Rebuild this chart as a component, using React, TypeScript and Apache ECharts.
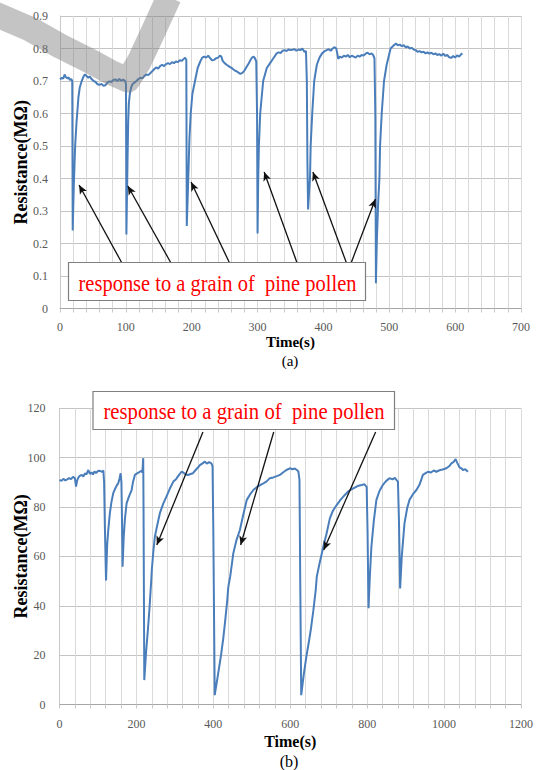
import React, { useEffect, useRef } from "react";
import * as echarts from "echarts";

const FONT = "Liberation Serif";

// (a) Time(s) vs Resistance(MΩ)
const topData: [number, number][] = [
  [0, .705], [3, .71], [5, .707], [7, .72], [9, .712], [11, .708], [13, .711], [15, .703], [17, .706], [18.6, .70],
  [19.3, .24], [20, .30], [21, .38], [22, .44], [23, .50], [25, .57], [26.5, .61], [28, .65], [30, .68], [33, .70],
  [36, .715], [38, .72], [40, .716], [43, .71], [45, .714], [48, .706], [51, .70], [54, .697], [57, .69], [60, .688],
  [63, .691], [66, .685], [69, .687], [72, .695], [75, .699], [78, .697], [81, .703], [84, .705], [87, .70], [90, .706],
  [93, .701], [96, .704], [99, .70], [100.2, .69], [100.8, .228], [101.5, .32], [102.5, .45], [103.5, .57], [104.5, .63],
  [106, .66], [108, .68], [110, .69], [113, .695], [116, .70], [119, .706], [122, .71], [125, .708], [128, .715], [131, .72],
  [134, .718], [137, .724], [140, .73], [143, .736], [146, .742], [149, .738], [152, .746], [155, .75], [158, .746], [161, .752],
  [164, .755], [167, .752], [170, .758], [173, .755], [176, .76], [179, .758], [182, .764], [185, .762], [188, .768], [190, .772],
  [191.8, .765], [192.5, .254], [194, .35], [195.5, .45], [196.5, .52], [198.5, .60], [201, .66], [205, .70], [209, .74], [213, .76],
  [216, .772], [219, .775], [222, .772], [225, .778], [228, .77], [231, .764], [234, .765], [237, .77], [240, .772], [243, .778],
  [245, .775], [247, .762], [250, .755], [253, .75], [256, .746], [259, .742], [262, .738], [265, .733], [268, .73], [271, .726],
  [274, .722], [277, .725], [280, .732], [283, .742], [286, .752], [289, .764], [292, .773], [294, .775], [296, .77], [298, .76],
  [299.2, .60], [300, .231], [301, .40], [302, .5], [304, .6], [308.5, .70], [314, .74], [319, .755], [324, .77], [329, .785],
  [332, .788], [335, .786], [338, .793], [341, .795], [344, .792], [347, .797], [350, .795], [353, .796], [356, .798], [359, .793],
  [362, .797], [365, .795], [368, .80], [371, .79], [373.5, .792], [374.8, .70], [375.7, .45], [376.7, .305], [378, .35], [379.6, .40],
  [380.6, .50], [383, .60], [386, .70], [390, .75], [394, .772], [398, .785], [402, .792], [405, .795], [408, .798], [411, .793],
  [414, .80], [417, .804], [419.5, .80], [421, .785], [422.5, .768], [425, .775], [428, .772], [431, .778], [434, .775], [437, .78],
  [440, .773], [443, .778], [446, .775], [449, .772], [452, .778], [455, .775], [458, .78], [461, .778], [464, .784], [467, .787],
  [470, .782], [473, .785], [475.5, .78], [477.5, .77], [478.8, .60], [479.7, .078], [481, .20], [483, .32], [485, .40], [486, .50],
  [488.5, .60], [492, .70], [496, .75], [502, .80], [507, .81], [510, .815], [513, .81], [516, .812], [519, .807], [522, .81],
  [525, .804], [528, .806], [531, .80], [534, .802], [537, .797], [540, .795], [543, .79], [546, .792], [549, .788], [552, .79],
  [555, .785], [558, .788], [561, .784], [564, .787], [567, .782], [570, .785], [573, .78], [576, .783], [579, .778], [582, .784],
  [585, .777], [588, .78], [591, .773], [594, .771], [597, .777], [600, .772], [603, .779], [606, .775], [609, .782], [611, .785],
];

// (b) Time(s) vs Resistance(MΩ)
const bottomData: [number, number][] = [
  [0, 91], [5, 90.6], [10, 91.4], [15, 90.8], [20, 91.2], [25, 91.7], [30, 91.3], [35, 92.2], [40, 91.7], [43, 88.3],
  [46, 90.8], [50, 92.2], [54, 92.8], [58, 93], [62, 92.4], [66, 93.6], [70, 93.2], [75, 95], [79, 93.4], [83, 94],
  [87, 93.2], [91, 94.4], [95, 93.8], [100, 94.6], [105, 94.7], [110, 94.2], [114, 94.8], [116, 90], [118, 72], [121, 50.2],
  [124, 65], [127, 71], [131, 77.5], [135, 82], [139.7, 85.6], [145, 87.5], [149, 88.8], [152.7, 89.6], [156, 91.5], [159, 93.7],
  [161, 90], [162.5, 75], [164, 55.8], [167, 68], [170, 75], [174.5, 81.5], [180, 84], [187.5, 86.9], [191, 90], [196, 93],
  [202, 93.6], [209, 94.3], [213, 94.7], [215.5, 94], [217.7, 99.8], [218.5, 80], [220.5, 9.9], [225, 21], [230, 30.5], [234, 39],
  [238.6, 50.4], [240, 54.5], [244, 62], [248, 68], [254, 72.5], [261, 77.5], [270, 81.5], [278, 84.2], [287, 87.5], [296, 90.3],
  [303, 91.3], [310, 92.8], [317, 94.3], [322, 94], [328, 93.2], [334, 93], [341, 93.4], [347, 93.7], [354, 95], [360, 96],
  [365, 97], [371, 97.6], [378, 98.4], [383, 97.6], [389, 98.2], [395, 97.7], [398, 96.5], [400, 70], [403.6, 3.8], [412, 12],
  [420, 20], [426, 27], [431, 34.2], [436, 42], [439, 47.7], [444, 52], [452, 61.3], [460, 66.5], [469, 70.7], [478, 77],
  [487, 82.9], [495, 85], [504, 86.9], [515, 88.3], [530, 89.6], [538, 90.3], [547, 91.7], [556, 92], [565, 92.5], [573, 93],
  [581, 94], [590, 95], [599, 95.7], [606, 95.3], [612, 95.6], [617, 95], [621, 94.5], [624, 91], [626, 50], [628.5, 3.8],
  [635, 12], [642, 19.5], [648, 25], [654, 30.9], [660, 38], [666, 46], [669, 51.8], [676, 57], [686, 63.9], [694, 69],
  [703, 75.4], [711, 78.5], [720.7, 80.8], [730, 82.8], [742, 84.9], [752, 86.5], [764, 87.6], [775, 88.5], [785.6, 88.9], [793, 89.2],
  [798.7, 88.2], [801, 70], [803.5, 39], [807, 52], [811, 63.9], [817, 74], [824, 82.9], [832, 86.5], [841, 89], [849, 90.5],
  [858, 91.7], [866, 91.2], [872, 91.8], [876, 91], [880, 90.3], [882.6, 75], [885.7, 47], [890, 60], [897, 73.4], [904, 79.5],
  [910, 82.9], [919, 85.2], [928, 86.9], [936, 89], [945, 93], [951, 93.6], [958, 94.3], [966, 94], [973, 94.8], [980, 94.3],
  [988, 94.9], [996, 95.2], [1006, 95.7], [1013, 96.5], [1019, 97.7], [1025, 98.3], [1030, 99.4], [1034, 98], [1040, 96.1], [1045, 95.7],
  [1049, 95], [1055, 95.3], [1062, 94.3],
];

const topXLabels = [0, 100, 200, 300, 400, 500, 600, 700];
const bottomXLabels = [0, 200, 400, 600, 800, 1000, 1200];

// arrows: [tail, tip] in data coordinates
const topArrows: [number, number][][] = [
  [[94, 0.14], [29, 0.38]],
  [[168.5, 0.14], [103, 0.377]],
  [[257.5, 0.14], [199, 0.389]],
  [[360, 0.14], [310, 0.42]],
  [[435, 0.14], [384, 0.42]],
  [[442, 0.14], [479, 0.337]],
];
const bottomArrows: [number, number][][] = [
  [[373, 110.4], [253, 64.6]],
  [[557, 110.4], [471, 64.6]],
  [[822, 110.4], [687, 62.6]],
];

const annotation = "response to a grain of  pine pollen";

export default function App() {
  const ref = useRef<HTMLDivElement>(null);
  useEffect(() => {
    document.body.style.margin = "0";
    const chart = echarts.init(ref.current!, undefined, { renderer: "svg" });
    const labelStyle = { color: "#595959", fontFamily: FONT, fontSize: 12 };
    const titleStyle = { color: "#000", fontFamily: FONT, fontWeight: "bold" as const };
    const arrowLine = (arrs: [number, number][][]) => ({
      silent: true,
      symbol: ["none", "arrow"],
      symbolSize: [6, 9],
      label: { show: false },
      lineStyle: { color: "#111", width: 1.3, type: "solid" },
      emphasis: { disabled: true },
      data: arrs.map(([a, b]) => [{ coord: a }, { coord: b }]),
    });
    const xAxisBase = {
      type: "value",
      axisLine: { show: true, lineStyle: { color: "#a6a6a6" } },
      axisTick: { show: true, length: 4, lineStyle: { color: "#c8c8c8" } },
      splitLine: { show: true, lineStyle: { color: "#d9d9d9" } },
      nameLocation: "middle",
      nameMoveOverlap: false,
    };
    const yAxisBase = {
      type: "value",
      axisLine: { show: true, lineStyle: { color: "#c8c8c8" } },
      axisTick: { show: false },
      splitLine: { show: true, lineStyle: { color: "#c4c4c4" } },
      nameLocation: "middle",
      nameMoveOverlap: false,
      name: "Resistance(MΩ)",
      nameTextStyle: { ...titleStyle, fontSize: 18 },
    };
    chart.setOption({
      animation: false,
      backgroundColor: "#fff",
      textStyle: { fontFamily: FONT },
      grid: [
        { left: 60, top: 16, width: 461, height: 292.5 },
        { left: 59.5, top: 408.3, width: 461.5, height: 296.2 },
      ],
      xAxis: [
        {
          ...xAxisBase,
          gridIndex: 0,
          min: 0,
          max: 700,
          interval: 20,
          axisLabel: { ...labelStyle, margin: 12, formatter: (v: number) => (topXLabels.includes(Math.round(v)) ? String(Math.round(v)) : "") },
          name: "Time(s)",
          nameGap: 26,
          nameTextStyle: { ...titleStyle, fontSize: 15 },
        },
        {
          ...xAxisBase,
          gridIndex: 1,
          min: 0,
          max: 1200,
          interval: 40,
          axisLabel: { ...labelStyle, margin: 13, formatter: (v: number) => (bottomXLabels.includes(Math.round(v)) ? String(Math.round(v)) : "") },
          name: "Time(s)",
          nameGap: 29,
          nameTextStyle: { ...titleStyle, fontSize: 16 },
        },
      ],
      yAxis: [
        { ...yAxisBase, gridIndex: 0, min: 0, max: 0.9, interval: 0.1, axisLabel: { ...labelStyle, margin: 12 }, nameGap: 30 },
        { ...yAxisBase, gridIndex: 1, min: 0, max: 120, interval: 20, axisLabel: { ...labelStyle, margin: 14 }, nameGap: 30 },
      ],
      series: [
        {
          type: "line",
          xAxisIndex: 0,
          yAxisIndex: 0,
          data: topData,
          showSymbol: false,
          lineStyle: { color: "#4a7ebb", width: 2 },
          itemStyle: { color: "#4a7ebb" },
          markLine: arrowLine(topArrows),
        },
        {
          type: "line",
          xAxisIndex: 1,
          yAxisIndex: 1,
          data: bottomData,
          showSymbol: false,
          lineStyle: { color: "#4a7ebb", width: 2 },
          itemStyle: { color: "#4a7ebb" },
          markLine: arrowLine(bottomArrows),
        },
      ],
      graphic: [
        {
          type: "polyline",
          z: 200,
          silent: true,
          shape: { points: [[-5, 14], [30, 29], [60, 46], [90, 61], [112, 73], [128, 80], [139, 62], [153, 32], [169, -3]] },
          style: { stroke: "rgba(120,120,120,0.44)", lineWidth: 25, lineJoin: "round", fill: "none" },
        },
        {
          type: "rect",
          z: 100,
          shape: { x: 68.5, y: 262.5, width: 297, height: 38 },
          style: { fill: "#fff", stroke: "#7f7f7f", lineWidth: 1.2 },
        },
        {
          type: "text",
          z: 101,
          x: 217.5,
          y: 283.5,
          scaleX: 0.89,
          style: { text: annotation, fill: "#ff0000", fontFamily: FONT, fontSize: 23, align: "center", verticalAlign: "middle" },
        },
        {
          type: "rect",
          z: 100,
          shape: { x: 93, y: 391.5, width: 301.5, height: 38 },
          style: { fill: "#fff", stroke: "#7f7f7f", lineWidth: 1.2 },
        },
        {
          type: "text",
          z: 101,
          x: 244,
          y: 411.5,
          scaleX: 0.9,
          style: { text: annotation, fill: "#ff0000", fontFamily: FONT, fontSize: 23, align: "center", verticalAlign: "middle" },
        },
        {
          type: "text",
          x: 290,
          y: 361,
          style: { text: "(a)", fill: "#000", fontFamily: FONT, fontSize: 15, align: "center", verticalAlign: "middle" },
        },
        {
          type: "text",
          x: 289,
          y: 761,
          style: { text: "(b)", fill: "#000", fontFamily: FONT, fontSize: 16, align: "center", verticalAlign: "middle" },
        },
      ],
    });
    return () => chart.dispose();
  }, []);
  return <div ref={ref} style={{ width: 539, height: 770 }} />;
}
